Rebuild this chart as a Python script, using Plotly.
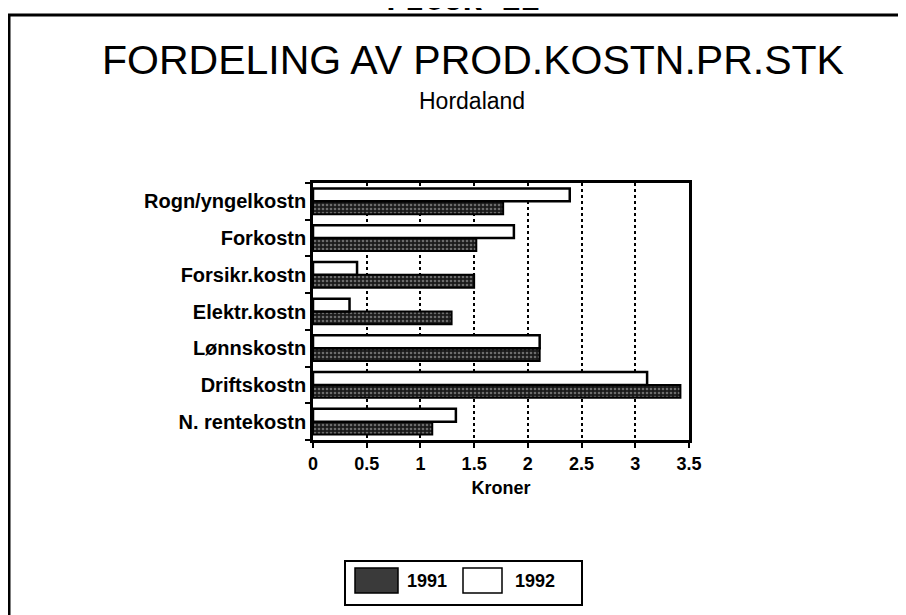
import plotly.graph_objects as go

# Data (kroner per stk)
categories = ['N. rentekostn', 'Driftskostn', 'Lønnskostn', 'Elektr.kostn',
              'Forsikr.kostn', 'Forkostn', 'Rogn/yngelkostn']
values_1991 = [1.11, 3.42, 2.11, 1.29, 1.50, 1.52, 1.77]
values_1992 = [1.33, 3.11, 2.11, 0.34, 0.41, 1.87, 2.39]
x_ticks = [0, 0.5, 1, 1.5, 2, 2.5, 3, 3.5]
x_ticklabels = ['0', '0.5', '1', '1.5', '2', '2.5', '3', '3.5']
series_names = ['1991', '1992']

font = 'Liberation Sans, Arial, sans-serif'
dark = '#1a1a1a'

# plot area in figure pixels
L, T, W, H = 305, 175, 376, 257
OFF = 8  # page offset of the figure in the browser


def fx(px):  # page pixel -> paper x
    return (px - OFF - L) / W


def fy(py):  # page pixel -> paper y
    return (T + H - (py - OFF)) / H


fig = go.Figure()

# 1991 - dark dotted fill
fig.add_trace(go.Bar(
    y=categories, x=values_1991, name=series_names[0], orientation='h',
    marker=dict(
        color=dark,
        line=dict(color='black', width=2),
        pattern=dict(shape='.', fgcolor='#bdbdbd', bgcolor=dark, size=4, solidity=0.35),
    ),
))
# 1992 - white fill
fig.add_trace(go.Bar(
    y=categories, x=values_1992, name=series_names[1], orientation='h',
    marker=dict(color='white', line=dict(color='black', width=2.5)),
))

fig.update_layout(
    width=906, height=615,
    barmode='group', bargap=0.3, bargroupgap=0,
    paper_bgcolor='white', plot_bgcolor='white',
    margin=dict(l=L, r=906 - L - W, t=T, b=615 - T - H),
    font=dict(family=font, color='black', size=18),
    showlegend=False,
)

fig.update_xaxes(
    range=[0, 3.5], tickvals=x_ticks, ticktext=x_ticklabels,
    showgrid=True, gridcolor='black', gridwidth=1.5, griddash='dot',
    showline=True, linecolor='black', linewidth=3, mirror=True,
    ticks='outside', ticklen=5, tickwidth=2, tickcolor='black',
    tickfont=dict(family=font, size=18, weight='bold'),
    title=dict(text='Kroner', font=dict(family=font, size=18, weight='bold'), standoff=9),
    zeroline=False,
)
fig.update_yaxes(
    showline=True, linecolor='black', linewidth=2.5, mirror=True,
    ticks='outside', tickson='boundaries', ticklen=5, tickwidth=2, tickcolor='black',
    tickfont=dict(family=font, size=20, weight='bold'),
    showgrid=False,
)

# outer frame of the figure page
fig.add_shape(type='rect', xref='paper', yref='paper',
              x0=fx(9), y0=fy(640), x1=fx(940), y1=fy(15),
              line=dict(color='black', width=3), fillcolor='rgba(0,0,0,0)', layer='below')

# title and subtitle
fig.add_annotation(text='FORDELING AV PROD.KOSTN.PR.STK', xref='paper', yref='paper',
                   x=fx(473), y=fy(60), showarrow=False, yanchor='middle',
                   font=dict(family=font, size=41, color='black'))
fig.add_annotation(text='Hordaland', xref='paper', yref='paper',
                   x=fx(472), y=fy(101), showarrow=False, yanchor='middle',
                   font=dict(family=font, size=23, color='black'))
# figure number at the very top, cut off by the page edge as in the scan
fig.add_annotation(text='FIGUR 11', xref='paper', yref='paper',
                   x=fx(463), y=fy(22), showarrow=False, yanchor='bottom',
                   font=dict(family='Liberation Mono, Courier New, monospace', size=32,
                             color='black', weight='bold'))

# legend box drawn by hand (larger swatches, as in the original)
fig.add_shape(type='rect', xref='paper', yref='paper',
              x0=fx(345), y0=fy(605), x1=fx(582), y1=fy(561),
              line=dict(color='black', width=2), fillcolor='white')
fig.add_shape(type='rect', xref='paper', yref='paper',
              x0=fx(355), y0=fy(593), x1=fx(398), y1=fy(568),
              line=dict(color='black', width=1.5), fillcolor='#3a3a3a')
fig.add_shape(type='rect', xref='paper', yref='paper',
              x0=fx(463), y0=fy(593), x1=fx(502), y1=fy(568),
              line=dict(color='black', width=1.5), fillcolor='white')
for name, xpos in zip(series_names, [405, 513]):
    fig.add_annotation(text=name, xref='paper', yref='paper',
                       x=fx(xpos), y=fy(581), xanchor='left', yanchor='middle',
                       showarrow=False, font=dict(family=font, size=18, weight='bold'))

fig.write_html('out.html')
